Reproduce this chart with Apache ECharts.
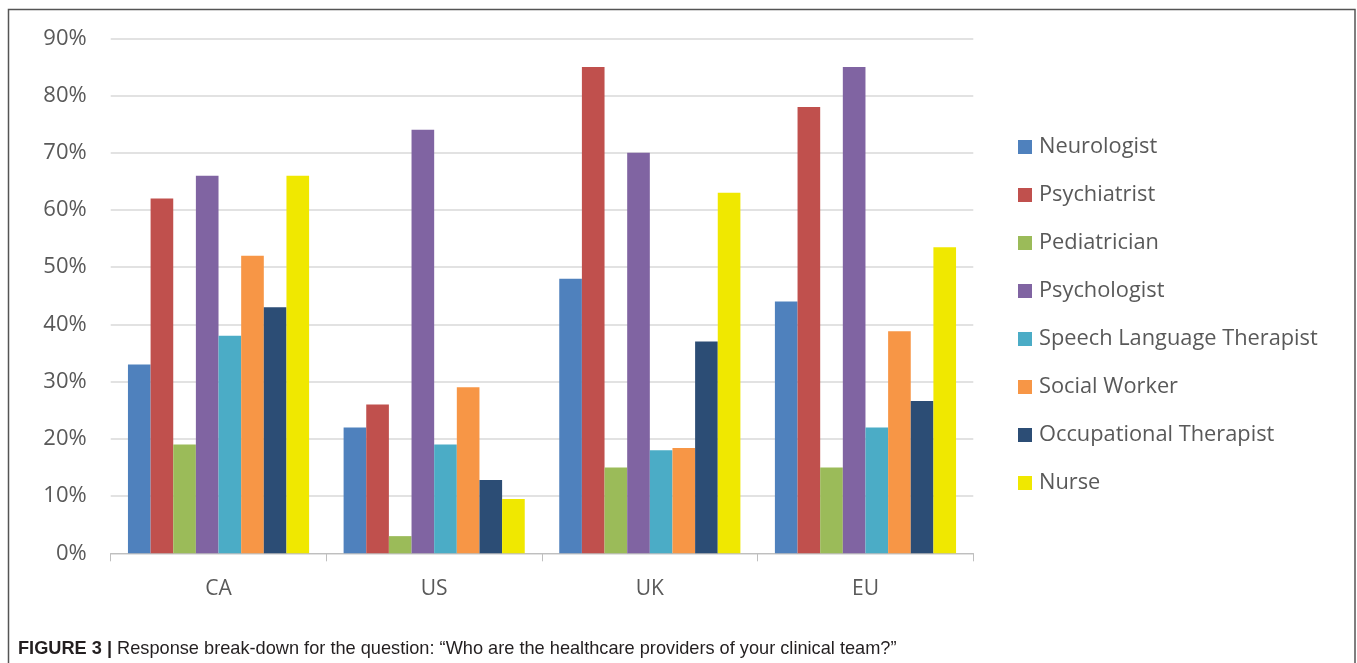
<!DOCTYPE html>
<html>
<head>
<meta charset="utf-8">
<script src="https://cdn.jsdelivr.net/npm/echarts@6/dist/echarts.min.js"></script>
<style>
  html, body { margin: 0; padding: 0; background: #fff; }
  #chart { width: 1357px; height: 663px; }
</style>
</head>
<body>
<div id="chart"></div>
<script>
// regions on the x axis
var regions = ['CA', 'US', 'UK', 'EU'];
var yTicks = [0, 10, 20, 30, 40, 50, 60, 70, 80, 90];

// % of respondents per provider, order: CA, US, UK, EU
var neurologist = [33, 22, 48, 44];
var psychiatrist = [62, 26, 85, 78];
var pediatrician = [19, 3, 15, 15];
var psychologist = [66, 74, 70, 85];
var speechTherapist = [38, 19, 18, 22];
var socialWorker = [52, 29, 18.4, 38.8];
var occupationalTherapist = [43, 12.8, 37, 26.6];
var nurse = [66, 9.5, 63, 53.5];

var seriesNames = ['Neurologist', 'Psychiatrist', 'Pediatrician', 'Psychologist',
  'Speech Language Therapist', 'Social Worker', 'Occupational Therapist', 'Nurse'];
var seriesData = [neurologist, psychiatrist, pediatrician, psychologist,
  speechTherapist, socialWorker, occupationalTherapist, nurse];
var colors = ['#4f81bd', '#c0504d', '#9bbb59', '#8064a2', '#4bacc6', '#f79646', '#2c4d75', '#f0e800'];

var chart = echarts.init(document.getElementById('chart'));

var option = {
  animation: false,
  color: colors,
  textStyle: { fontFamily: '"Open Sans", sans-serif' },
  title: {
    left: 18,
    top: 640,
    padding: 0,
    text: '{b|FIGURE 3 |} Response break-down for the question: \u201cWho are the healthcare providers of your clinical team?\u201d',
    textStyle: {
      fontFamily: '"Liberation Sans Narrow", "Arial Narrow", "Liberation Sans", sans-serif',
      fontSize: 18.2,
      fontWeight: 'normal',
      color: '#231f20',
      rich: {
        b: {
          fontFamily: '"Liberation Sans Narrow", "Arial Narrow", "Liberation Sans", sans-serif',
          fontSize: 18.2,
          fontWeight: 'bold',
          color: '#231f20'
        }
      }
    }
  },
  graphic: [{
    type: 'polyline',
    shape: { points: [[8.5, 663], [8.5, 9.5], [1355, 9.5], [1355, 663]] },
    style: { stroke: '#555', lineWidth: 1.5, fill: null }
  }],
  legend: {
    orient: 'vertical',
    left: 1018,
    top: 136,
    padding: 0,
    itemWidth: 14,
    itemHeight: 14,
    itemGap: 26,
    icon: 'rect',
    textStyle: { fontSize: 21.8, color: '#595959', lineHeight: 20, padding: [0, 0, 0, 2] },
    data: seriesNames
  },
  grid: { left: 110.7, right: 383.7, top: 38.3, bottom: 109.7 },
  xAxis: {
    type: 'category',
    data: regions,
    axisLine: { lineStyle: { color: '#bfbfbf', width: 1 } },
    axisTick: { show: true, length: 8, lineStyle: { color: '#bfbfbf' } },
    axisLabel: { fontSize: 21, color: '#595959', margin: 25 }
  },
  yAxis: {
    type: 'value',
    min: yTicks[0],
    max: yTicks[yTicks.length - 1],
    interval: 10,
    axisLine: { show: false },
    axisTick: { show: false },
    axisLabel: { fontSize: 22, color: '#595959', margin: 24, formatter: '{value}%' },
    splitLine: { lineStyle: { color: '#d9d9d9', width: 1.5 } }
  },
  series: seriesNames.map(function (name, i) {
    return {
      name: name,
      type: 'bar',
      data: seriesData[i],
      barGap: '0%',
      barCategoryGap: '16%'
    };
  })
};

chart.setOption(option);
</script>
</body>
</html>
